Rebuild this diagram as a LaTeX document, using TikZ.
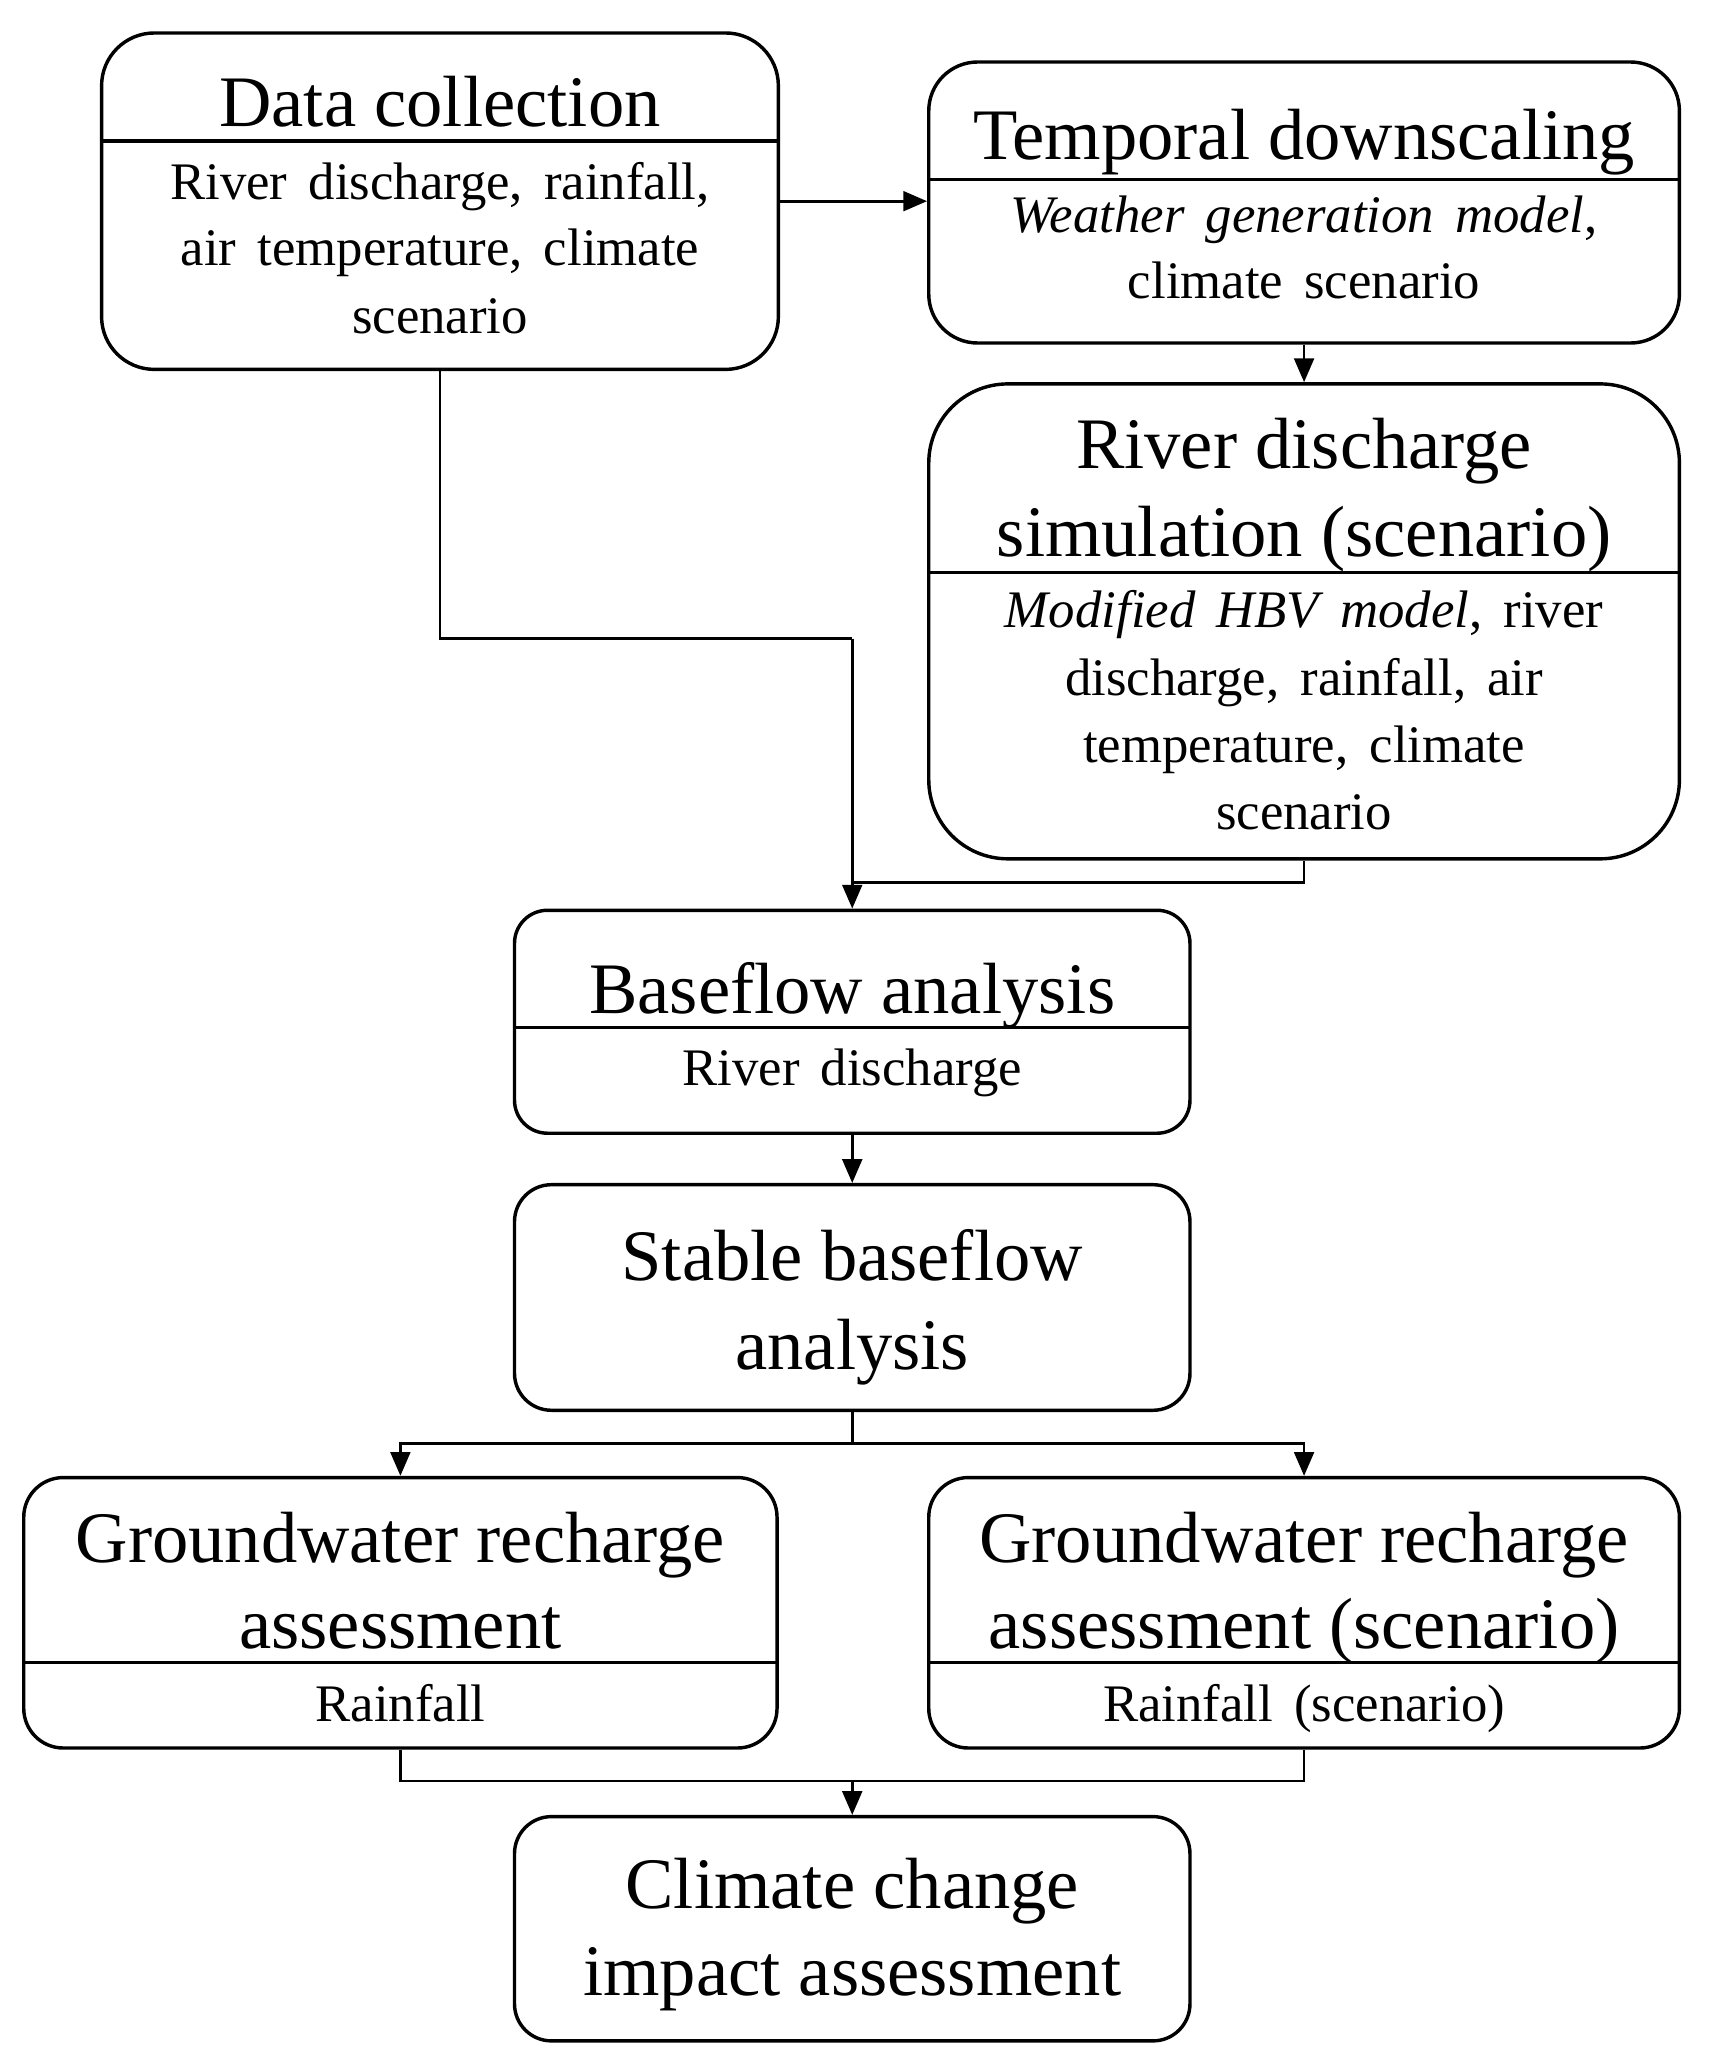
\documentclass[tikz,border=0pt]{standalone}
\usepackage{fontspec}
\setmainfont{Liberation Serif}
\usetikzlibrary{arrows.meta}
\newcommand\mybodyfont{\fontsize{40}{51}\selectfont\spaceskip=16pt\relax}
\tikzset{
  box/.style={draw, line width=2.6pt, inner sep=0pt},
  ttl/.style={font=\fontsize{55}{66}\selectfont, anchor=base, inner sep=0pt},
  bdy/.style={font=\mybodyfont, anchor=base, inner sep=0pt},
  divider/.style={line width=2.6pt},
  conn/.style={line width=2pt},
  arr/.style={line width=2pt, -{Triangle[length=18pt,width=15pt]}}
}
\begin{document}
\begin{tikzpicture}[x=1pt,y=-1pt]
\useasboundingbox (0,0) rectangle (1300,1570.6);
% boxes
\node[box, rounded corners=40pt, minimum width=513pt, minimum height=255pt] (dc) at (333.5,152.5) {};
\node[box, rounded corners=37pt, minimum width=569pt, minimum height=213pt] (td) at (988.5,153.5) {};
\node[box, rounded corners=60pt, minimum width=569pt, minimum height=360pt] (rs) at (988.5,471) {};
\node[box, rounded corners=25pt, minimum width=512pt, minimum height=169pt] (bf) at (646,774.5) {};
\node[box, rounded corners=28pt, minimum width=512pt, minimum height=171pt] (sb) at (646,983.5) {};
\node[box, rounded corners=30pt, minimum width=571pt, minimum height=205pt] (gl) at (303.5,1222.5) {};
\node[box, rounded corners=30pt, minimum width=569pt, minimum height=205pt] (gr) at (988.5,1222.5) {};
\node[box, rounded corners=28pt, minimum width=512pt, minimum height=170pt] (cc) at (646,1462) {};
% dividers
\draw[divider] (77,107) -- (590,107);
\draw[divider] (704,136) -- (1273,136);
\draw[divider] (704,434) -- (1273,434);
\draw[divider] (390,779) -- (902,779);
\draw[divider] (18,1260) -- (589,1260);
\draw[divider] (704,1260) -- (1273,1260);
% texts
\node[ttl] (dct) at (333.5,96) {Data collection};
\node[bdy] (dcb1) at (333.5,151) {River discharge, rainfall,};
\node[bdy] (dcb2) at (333.5,201) {air temperature, climate};
\node[bdy] (dcb3) at (333.5,253) {scenario};
\node[ttl] (tdt) at (988.5,121) {Temporal downscaling};
\node[bdy] (tdb1) at (988.5,176) {\textit{Weather generation model},};
\node[bdy] (tdb2) at (988.5,226) {climate scenario};
\node[ttl] (rst1) at (988.5,355) {River discharge};
\node[ttl] (rst2) at (988.5,421.5) {simulation (scenario)};
\node[bdy] (rsb1) at (988.5,476) {\textit{Modified HBV model}, river};
\node[bdy] (rsb2) at (988.5,527) {discharge, rainfall, air};
\node[bdy] (rsb3) at (988.5,578) {temperature, climate};
\node[bdy] (rsb4) at (988.5,629) {scenario};
\node[ttl] (bft) at (646,768) {Baseflow analysis};
\node[bdy] (bfb) at (646,823) {River discharge};
\node[ttl] (sbt1) at (646,971) {Stable baseflow};
\node[ttl] (sbt2) at (646,1038) {analysis};
\node[ttl] (glt1) at (303.5,1184.6) {Groundwater recharge};
\node[ttl] (glt2) at (303.5,1249.8) {assessment};
\node[bdy] (glb) at (303.5,1304.6) {Rainfall};
\node[ttl] (grt1) at (988.5,1184.6) {Groundwater recharge};
\node[ttl] (grt2) at (988.5,1249.8) {assessment (scenario)};
\node[bdy] (grb) at (988.5,1304.6) {Rainfall (scenario)};
\node[ttl] (cct1) at (646,1446.7) {Climate change};
\node[ttl] (cct2) at (646,1512.8) {impact assessment};
% junction points
\coordinate (j1) at (646,484);
\coordinate (j2) at (646,669);
\coordinate (j3) at (646,1094);
\coordinate (j4) at (646,1350);
% connectors
\draw[arr] (dc.east) -- (dc.east -| td.west);
\draw[arr] (td.south) -- (rs.north);
\draw[conn] (dc.south) |- (j1);
\draw[arr] (j1) -- (bf.north);
\draw[conn] (rs.south) |- (j2);
\draw[arr] (bf.south) -- (sb.north);
\draw[conn] (sb.south) -- (j3);
\draw[arr] (j3) -| (gl.north);
\draw[arr] (j3) -| (gr.north);
\draw[conn] (gl.south) |- (j4);
\draw[conn] (gr.south) |- (j4);
\draw[arr] (j4) -- (cc.north);
\end{tikzpicture}
\end{document}
